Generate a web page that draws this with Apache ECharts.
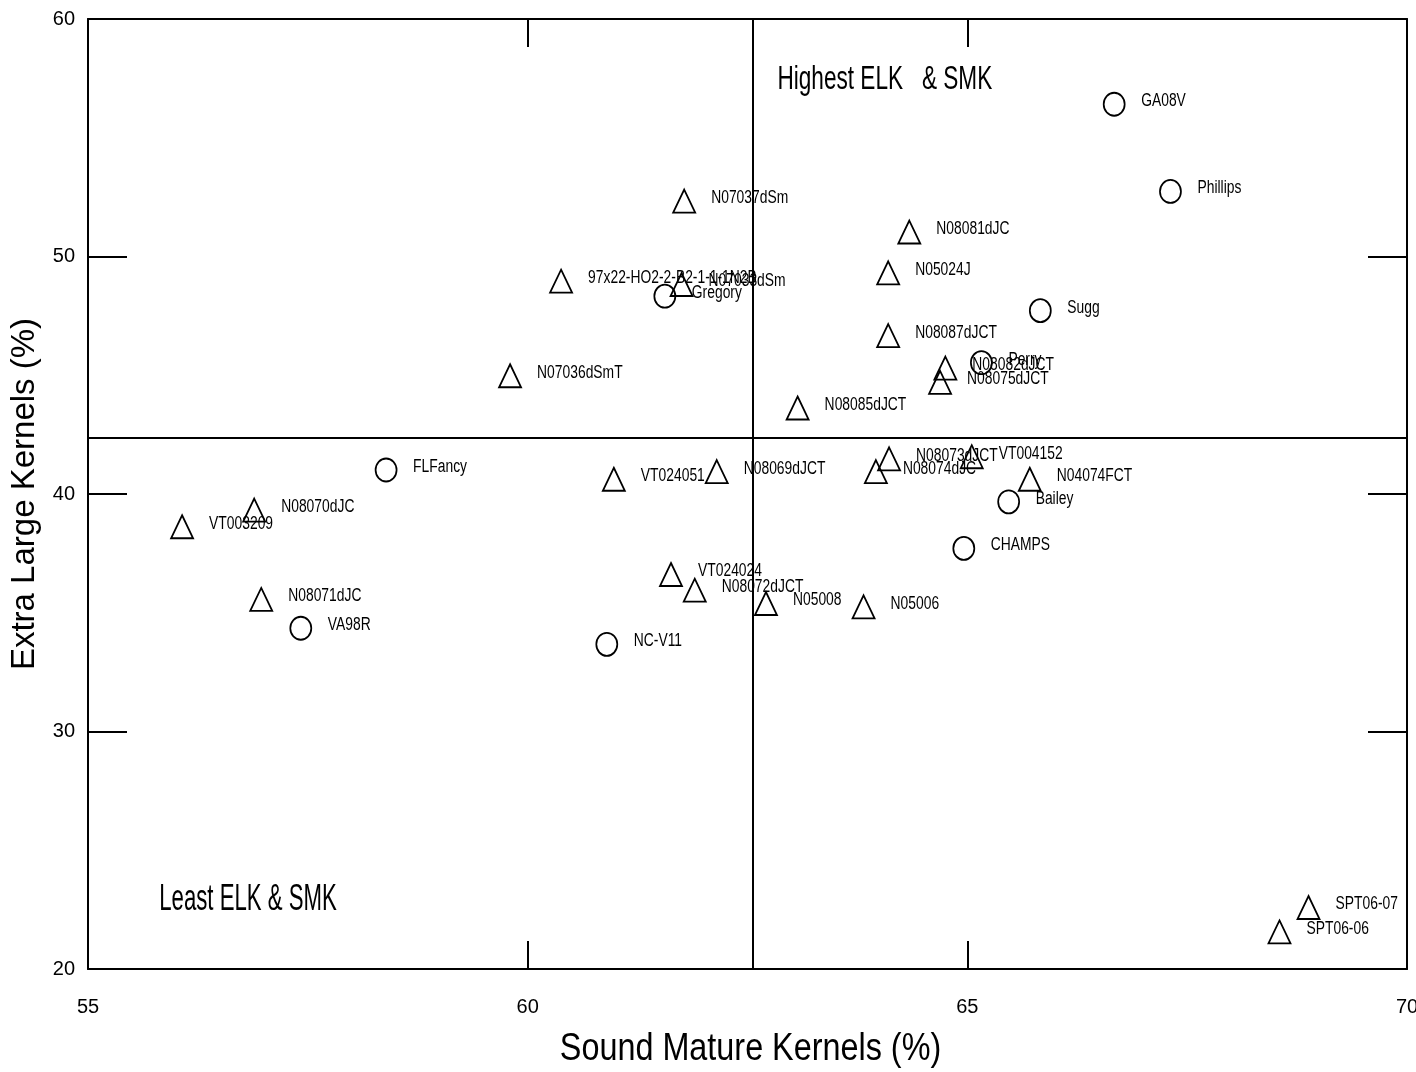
<!DOCTYPE html>
<html>
<head>
<meta charset="utf-8">
<script src="https://cdn.jsdelivr.net/npm/echarts@6/dist/echarts.min.js"></script>
<style>
html,body{margin:0;padding:0;background:#fff;overflow:hidden;}
#chart{width:1416px;height:1072px;}
</style>
</head>
<body>
<div id="chart"></div>
<script>
// Circle-marked entries
const circleNames = ['GA08V','Phillips','Sugg','Gregory','Perry','FLFancy','VA98R','NC-V11','Bailey','CHAMPS'];
const circleX = [66.67, 67.31, 65.83, 61.56, 65.16, 58.39, 57.42, 60.90, 65.47, 64.96];
const circleY = [56.41, 52.74, 47.72, 48.33, 45.53, 41.01, 34.35, 33.67, 39.67, 37.71];

// Triangle-marked entries
const triNames = ['N07037dSm','N08081dJC','N05024J','N08087dJCT','97x22-HO2-2-B2-1-1-1N2B','N07033dSm',
  'N07036dSmT','N08085dJCT','N08082dJCT','N08075dJCT','VT024051','N08069dJCT','N08073dJCT','N08074dJC',
  'VT004152','N04074FCT','N08070dJC','VT003209','N08071dJC','VT024024','N08072dJCT','N05008','N05006',
  'SPT06-07','SPT06-06'];
const triX = [61.78, 64.34, 64.10, 64.10, 60.38, 61.75, 59.80, 63.07, 64.75, 64.69, 60.98, 62.15, 64.11, 63.96,
  65.05, 65.71, 56.89, 56.07, 56.97, 61.63, 61.90, 62.71, 63.82, 68.88, 68.55];
const triY = [52.33, 51.03, 49.31, 46.67, 48.96, 48.82, 44.98, 43.62, 45.30, 44.70, 40.62, 40.94, 41.48, 40.94,
  41.57, 40.62, 39.32, 38.62, 35.56, 36.61, 35.95, 35.39, 35.25, 22.59, 21.56];

// Reference (mean) lines
const meanX = 62.56;
const meanY = 42.36;

// Axis settings
const xTicks = [55, 60, 65, 70];
const yTicks = [20, 30, 40, 50, 60];
const xTitle = 'Sound Mature Kernels (%)';
const yTitle = 'Extra Large Kernels (%)';

// Quadrant annotations
const quadTexts = ['Highest ELK   & SMK', 'Least ELK & SMK'];
const quadX = [62.84, 55.81];
const quadY = [57.45, 22.9];

const SANS = '"Liberation Sans", Arial, sans-serif';

function mk(names, xs, ys) {
  return names.map((n, i) => ({ name: n, value: [xs[i], ys[i]] }));
}

const allNames = circleNames.concat(triNames);
const allX = circleX.concat(triX);
const allY = circleY.concat(triY);

const chart = echarts.init(document.getElementById('chart'), null, { renderer: 'canvas' });

const axisCommonX = {
  type: 'value', min: xTicks[0], max: xTicks[xTicks.length - 1], interval: 5,
  axisLine: { show: true, onZero: false, lineStyle: { color: '#000', width: 2 } },
  axisTick: { show: true, inside: true, length: 28, lineStyle: { color: '#000', width: 2 } },
  splitLine: { show: false }
};
const axisCommonY = {
  type: 'value', min: yTicks[0], max: yTicks[yTicks.length - 1], interval: 10,
  axisLine: { show: true, onZero: false, lineStyle: { color: '#000', width: 2 } },
  axisTick: { show: true, inside: true, length: 39, lineStyle: { color: '#000', width: 2 } },
  splitLine: { show: false }
};

chart.setOption({
  animation: false,
  backgroundColor: '#fff',
  grid: { left: 88, right: 9, top: 19, bottom: 103, containLabel: false, outerBoundsMode: 'none' },
  xAxis: [
    Object.assign({}, axisCommonX, {
      position: 'bottom',
      axisLabel: { show: true, margin: 28, color: '#000', fontSize: 20, fontFamily: SANS }
    }),
    Object.assign({}, axisCommonX, { position: 'top', axisLabel: { show: false } })
  ],
  yAxis: [
    Object.assign({}, axisCommonY, {
      position: 'left',
      axisLabel: { show: true, margin: 13, color: '#000', fontSize: 20, fontFamily: SANS },
      name: yTitle,
      nameLocation: 'middle',
      nameGap: 37,
      nameTextStyle: { color: '#000', fontSize: 33, fontFamily: SANS }
    }),
    Object.assign({}, axisCommonY, { position: 'right', axisLabel: { show: false } })
  ],
  series: [
    {
      name: 'circles',
      type: 'scatter',
      symbol: 'circle',
      symbolSize: [21, 23],
      itemStyle: { color: 'rgba(0,0,0,0)', borderColor: '#000', borderWidth: 1.8, opacity: 1 },
      emphasis: { disabled: true },
      data: mk(circleNames, circleX, circleY),
      markLine: {
        silent: true,
        symbol: ['none', 'none'],
        label: { show: false },
        lineStyle: { color: '#000', width: 2, type: 'solid', opacity: 1 },
        data: [{ xAxis: meanX }, { yAxis: meanY }]
      }
    },
    {
      name: 'triangles',
      type: 'scatter',
      symbol: 'triangle',
      symbolSize: [22, 23],
      itemStyle: { color: 'rgba(0,0,0,0)', borderColor: '#000', borderWidth: 1.8, opacity: 1 },
      emphasis: { disabled: true },
      data: mk(triNames, triX, triY)
    },
    {
      name: 'labels',
      type: 'custom',
      silent: true,
      clip: false,
      data: allX.map((x, i) => [x, allY[i]]),
      renderItem: function (params, api) {
        const pt = api.coord([api.value(0), api.value(1)]);
        return {
          type: 'text',
          x: pt[0] + 27,
          y: pt[1] - 3,
          scaleX: 0.77,
          style: {
            text: allNames[params.dataIndex],
            font: '18px ' + SANS,
            fill: '#000',
            align: 'left', verticalAlign: 'middle',
            textAlign: 'left', textVerticalAlign: 'middle'
          }
        };
      }
    }
  ]
});

// Axis title and quadrant annotations
const gridRect = chart.getModel().getComponent('grid', 0).coordinateSystem.getRect();
const p0 = chart.convertToPixel({ gridIndex: 0 }, [quadX[0], quadY[0]]);
const p1 = chart.convertToPixel({ gridIndex: 0 }, [quadX[1], quadY[1]]);
chart.setOption({
  graphic: [
    {
      type: 'text', x: gridRect.x + gridRect.width / 2 + 3, y: gridRect.y + gridRect.height + 80,
      scaleX: 0.83, silent: true,
      style: { text: xTitle, font: '39px ' + SANS, fill: '#000',
        align: 'center', verticalAlign: 'middle', textAlign: 'center', textVerticalAlign: 'middle' }
    },
    {
      type: 'text', x: p0[0], y: p0[1], scaleX: 0.665, silent: true,
      style: { text: quadTexts[0], font: '34px ' + SANS, fill: '#000',
        align: 'left', verticalAlign: 'middle', textAlign: 'left', textVerticalAlign: 'middle' }
    },
    {
      type: 'text', x: p1[0], y: p1[1], scaleX: 0.6, silent: true,
      style: { text: quadTexts[1], font: '37px ' + SANS, fill: '#000',
        align: 'left', verticalAlign: 'middle', textAlign: 'left', textVerticalAlign: 'middle' }
    }
  ]
});
</script>
</body>
</html>
